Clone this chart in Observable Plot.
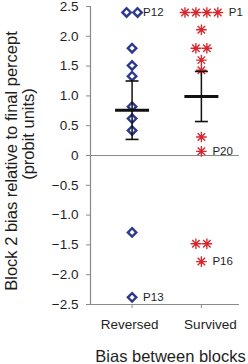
<!DOCTYPE html>
<html>
<head>
<meta charset="utf-8">
<script src="https://cdn.jsdelivr.net/npm/d3@7"></script>
<script src="https://cdn.jsdelivr.net/npm/@observablehq/plot@0.6"></script>
<style>
  html, body { margin: 0; padding: 0; background: #fff; }
  #chart { width: 248px; height: 364px; }
</style>
</head>
<body>
<div id="chart"></div>
<script>
// ---- data ----
const categories = ["Reversed", "Survived"];
const reversedValues = [2.40, 2.40, 1.80, 1.51, 1.33, 0.82, 0.62, 0.42, -1.29, -2.38];
const reversedSlots  = [-0.5, 0.5, 0, 0, 0, 0, 0, 0, 0, 0];
const survivedValues = [2.40, 2.40, 2.40, 2.40, 2.11, 1.80, 1.80, 1.60, 1.43, 0.31, 0.07, -1.48, -1.48, -1.78];
const survivedSlots  = [-1.5, -0.5, 0.5, 1.5, 0, -0.5, 0.5, 0, 0, 0, 0, -0.5, 0.5, 0];
const means  = [0.76, 0.99];
const errors = [0.49, 0.42];
const pointLabels   = ["P12", "P13", "P1", "P20", "P16"];
const labelCategory = [0, 0, 1, 1, 1];
const labelValues   = [2.40, -2.38, 2.40, 0.07, -1.78];
const labelSlots    = [0, 0, 1.5, 0, 0];
const yTicks = [-2.5, -2.0, -1.5, -1.0, -0.5, 0, 0.5, 1.0, 1.5, 2.0, 2.5];
const xAxisTitle = "Bias between blocks";
const yAxisTitle = ["Block 2 bias relative to final percept", "(probit units)"];

// ---- build tables ----
const slotUnit = 0.158;
const reversed = reversedValues.map((v, i) => ({cat: 0, value: v, slot: reversedSlots[i]}));
const survived = survivedValues.map((v, i) => ({cat: 1, value: v, slot: survivedSlots[i]}));
const summary = categories.map((c, i) => ({cat: i, mean: means[i], lo: means[i] - errors[i], hi: means[i] + errors[i]}));
const labels = pointLabels.map((t, i) => ({text: t, cat: labelCategory[i], value: labelValues[i], slot: labelSlots[i]}));
const xpos = d => d.cat + 1 + d.slot * slotUnit;
const xcat = d => d.cat + 1;

const asterisk8 = {
  draw(ctx, size) {
    const r = Math.sqrt(size / Math.PI);
    const d = r * Math.SQRT1_2;
    ctx.moveTo(-r, 0); ctx.lineTo(r, 0);
    ctx.moveTo(0, -r); ctx.lineTo(0, r);
    ctx.moveTo(-d, -d); ctx.lineTo(d, d);
    ctx.moveTo(-d, d); ctx.lineTo(d, -d);
    ctx.moveTo(1.4, 0); ctx.arc(0, 0, 1.4, 0, 2 * Math.PI);
  }
};
const hline = {
  draw(ctx, size) {
    const r = Math.sqrt(size / Math.PI);
    ctx.moveTo(-r, 0); ctx.lineTo(r, 0);
  }
};

const blue = "#2d3a8c";
const red = "#d8262c";
const grey = "#8a8a8a";
const xDomain = [0.4, 2.55];
const yDomain = [-2.5, 2.5];
const fmt = d => d === 0 ? "0" : (d < 0 ? "\u2212" : "") + Math.abs(d).toFixed(1);
const centered = {textAnchor: "middle", lineAnchor: "middle"};

const chart = Plot.plot({
  width: 248,
  height: 364,
  marginTop: 6,
  marginRight: 9,
  marginBottom: 60,
  marginLeft: 90,
  style: {fontFamily: "'Liberation Sans', Arial, sans-serif", background: "#fff", color: "#1e1e1e", overflow: "visible"},
  x: {domain: xDomain, axis: null},
  y: {domain: yDomain, axis: null},
  marks: [
    Plot.ruleY([0], {stroke: grey, strokeWidth: 1.2}),
    Plot.ruleY([yDomain[0]], {stroke: grey, strokeWidth: 1.2}),
    Plot.ruleX([xDomain[0]], {stroke: grey, strokeWidth: 1.2}),
    Plot.axisY({ticks: yTicks, tickSize: 4, tickPadding: 8, tickFormat: fmt, fontSize: 13.5, stroke: grey}),
    Plot.axisX({ticks: [1, 2], tickSize: 4, tickFormat: () => "", stroke: grey}),
    Plot.dot(reversed, {x: xpos, y: "value", symbol: "diamond2", r: 3.8, stroke: blue, strokeWidth: 2.4, fill: "none"}),
    Plot.dot(survived, {x: xpos, y: "value", symbol: asterisk8, r: 5.3, stroke: red, strokeWidth: 1.35, fill: red}),
    Plot.ruleX(summary, {x: xcat, y1: "lo", y2: "hi", stroke: "#111", strokeWidth: 1.5}),
    Plot.dot(summary, {x: xcat, y: "lo", symbol: hline, r: 6.5, stroke: "#111", strokeWidth: 1.6}),
    Plot.dot(summary, {x: xcat, y: "hi", symbol: hline, r: 6.5, stroke: "#111", strokeWidth: 1.6}),
    Plot.dot(summary, {x: xcat, y: "mean", symbol: hline, r: 17, stroke: "#111", strokeWidth: 3}),
    Plot.text(labels, {x: xpos, y: "value", text: "text", textAnchor: "start", lineAnchor: "middle", dx: 11, fontSize: 11.5, fill: "#1e1e1e"}),
    Plot.text([{cat: 0, text: categories[0]}], {x: xcat, text: "text", frameAnchor: "bottom", ...centered, dy: 20, dx: -2.5, fontSize: 13.5}),
    Plot.text([{cat: 1, text: categories[1]}], {x: xcat, text: "text", frameAnchor: "bottom", ...centered, dy: 20, dx: 9, fontSize: 13.5}),
    Plot.text([xAxisTitle], {text: d => d, frameAnchor: "bottom", ...centered, dy: 52.5, dx: 5.5, fontSize: 16.5}),
    Plot.text([yAxisTitle[0]], {text: d => d, frameAnchor: "left", ...centered, rotate: -90, dx: -78.5, dy: 5.5, fontSize: 16.5}),
    Plot.text([yAxisTitle[1]], {text: d => d, frameAnchor: "left", ...centered, rotate: -90, dx: -61.5, dy: -21.5, fontSize: 16.5})
  ]
});
document.getElementById("chart").appendChild(chart);
</script>
</body>
</html>
